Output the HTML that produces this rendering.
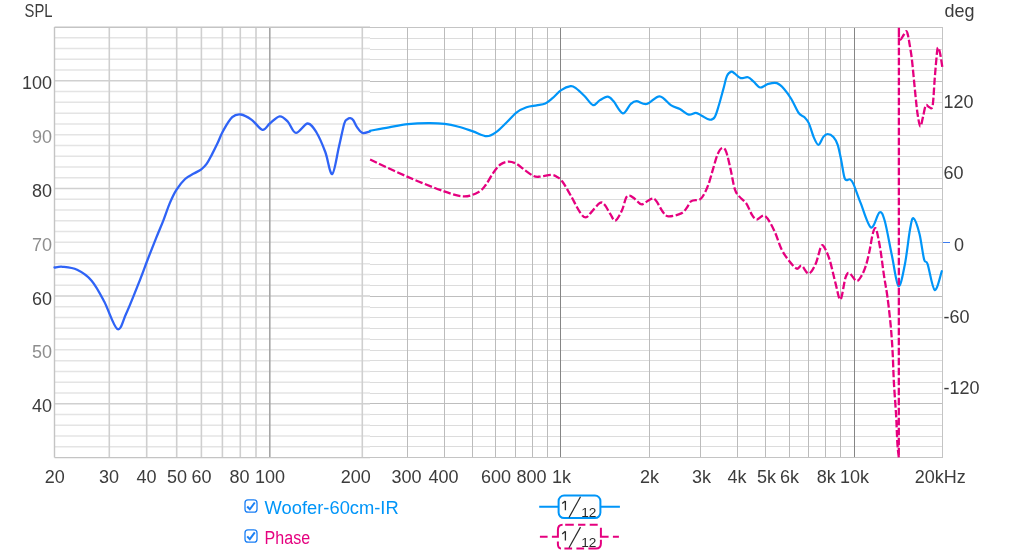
<!DOCTYPE html><html><head><meta charset="utf-8"><style>html,body{margin:0;padding:0;background:#fff;overflow:hidden}svg{display:block;will-change:transform}text{font-family:"Liberation Sans",sans-serif}</style></head><body>
<svg width="1024" height="553" viewBox="0 0 1024 553">
<rect width="1024" height="553" fill="#fff"/>
<line x1="54.5" y1="37.80" x2="370.0" y2="37.80" stroke="#e4e4e4" stroke-width="1.5"/>
<line x1="54.5" y1="48.56" x2="370.0" y2="48.56" stroke="#e4e4e4" stroke-width="1.5"/>
<line x1="54.5" y1="59.32" x2="370.0" y2="59.32" stroke="#e4e4e4" stroke-width="1.5"/>
<line x1="54.5" y1="70.08" x2="370.0" y2="70.08" stroke="#e4e4e4" stroke-width="1.5"/>
<line x1="54.5" y1="80.84" x2="370.0" y2="80.84" stroke="#d0d0d0" stroke-width="1.5"/>
<line x1="54.5" y1="91.61" x2="370.0" y2="91.61" stroke="#e4e4e4" stroke-width="1.5"/>
<line x1="54.5" y1="102.37" x2="370.0" y2="102.37" stroke="#e4e4e4" stroke-width="1.5"/>
<line x1="54.5" y1="113.13" x2="370.0" y2="113.13" stroke="#e4e4e4" stroke-width="1.5"/>
<line x1="54.5" y1="123.89" x2="370.0" y2="123.89" stroke="#e4e4e4" stroke-width="1.5"/>
<line x1="54.5" y1="134.65" x2="370.0" y2="134.65" stroke="#e4e4e4" stroke-width="1.5"/>
<line x1="54.5" y1="145.41" x2="370.0" y2="145.41" stroke="#e4e4e4" stroke-width="1.5"/>
<line x1="54.5" y1="156.17" x2="370.0" y2="156.17" stroke="#e4e4e4" stroke-width="1.5"/>
<line x1="54.5" y1="166.93" x2="370.0" y2="166.93" stroke="#e4e4e4" stroke-width="1.5"/>
<line x1="54.5" y1="177.69" x2="370.0" y2="177.69" stroke="#e4e4e4" stroke-width="1.5"/>
<line x1="54.5" y1="188.45" x2="370.0" y2="188.45" stroke="#d0d0d0" stroke-width="1.5"/>
<line x1="54.5" y1="199.22" x2="370.0" y2="199.22" stroke="#e4e4e4" stroke-width="1.5"/>
<line x1="54.5" y1="209.98" x2="370.0" y2="209.98" stroke="#e4e4e4" stroke-width="1.5"/>
<line x1="54.5" y1="220.74" x2="370.0" y2="220.74" stroke="#e4e4e4" stroke-width="1.5"/>
<line x1="54.5" y1="231.50" x2="370.0" y2="231.50" stroke="#e4e4e4" stroke-width="1.5"/>
<line x1="54.5" y1="242.26" x2="370.0" y2="242.26" stroke="#e4e4e4" stroke-width="1.5"/>
<line x1="54.5" y1="253.02" x2="370.0" y2="253.02" stroke="#e4e4e4" stroke-width="1.5"/>
<line x1="54.5" y1="263.78" x2="370.0" y2="263.78" stroke="#e4e4e4" stroke-width="1.5"/>
<line x1="54.5" y1="274.54" x2="370.0" y2="274.54" stroke="#e4e4e4" stroke-width="1.5"/>
<line x1="54.5" y1="285.30" x2="370.0" y2="285.30" stroke="#e4e4e4" stroke-width="1.5"/>
<line x1="54.5" y1="296.06" x2="370.0" y2="296.06" stroke="#d0d0d0" stroke-width="1.5"/>
<line x1="54.5" y1="306.83" x2="370.0" y2="306.83" stroke="#e4e4e4" stroke-width="1.5"/>
<line x1="54.5" y1="317.59" x2="370.0" y2="317.59" stroke="#e4e4e4" stroke-width="1.5"/>
<line x1="54.5" y1="328.35" x2="370.0" y2="328.35" stroke="#e4e4e4" stroke-width="1.5"/>
<line x1="54.5" y1="339.11" x2="370.0" y2="339.11" stroke="#e4e4e4" stroke-width="1.5"/>
<line x1="54.5" y1="349.87" x2="370.0" y2="349.87" stroke="#e4e4e4" stroke-width="1.5"/>
<line x1="54.5" y1="360.63" x2="370.0" y2="360.63" stroke="#e4e4e4" stroke-width="1.5"/>
<line x1="54.5" y1="371.39" x2="370.0" y2="371.39" stroke="#e4e4e4" stroke-width="1.5"/>
<line x1="54.5" y1="382.15" x2="370.0" y2="382.15" stroke="#e4e4e4" stroke-width="1.5"/>
<line x1="54.5" y1="392.91" x2="370.0" y2="392.91" stroke="#e4e4e4" stroke-width="1.5"/>
<line x1="54.5" y1="403.68" x2="370.0" y2="403.68" stroke="#d0d0d0" stroke-width="1.5"/>
<line x1="54.5" y1="414.44" x2="370.0" y2="414.44" stroke="#e4e4e4" stroke-width="1.5"/>
<line x1="54.5" y1="425.20" x2="370.0" y2="425.20" stroke="#e4e4e4" stroke-width="1.5"/>
<line x1="54.5" y1="435.96" x2="370.0" y2="435.96" stroke="#e4e4e4" stroke-width="1.5"/>
<line x1="54.5" y1="446.72" x2="370.0" y2="446.72" stroke="#e4e4e4" stroke-width="1.5"/>
<line x1="109.30" y1="27.0" x2="109.30" y2="457.0" stroke="#cfcfcf" stroke-width="1.6"/>
<line x1="146.70" y1="27.0" x2="146.70" y2="457.0" stroke="#cfcfcf" stroke-width="1.6"/>
<line x1="176.70" y1="27.0" x2="176.70" y2="457.0" stroke="#cfcfcf" stroke-width="1.6"/>
<line x1="201.40" y1="27.0" x2="201.40" y2="457.0" stroke="#cfcfcf" stroke-width="1.6"/>
<line x1="222.40" y1="27.0" x2="222.40" y2="457.0" stroke="#cfcfcf" stroke-width="1.6"/>
<line x1="240.30" y1="27.0" x2="240.30" y2="457.0" stroke="#cfcfcf" stroke-width="1.6"/>
<line x1="256.00" y1="27.0" x2="256.00" y2="457.0" stroke="#cfcfcf" stroke-width="1.6"/>
<line x1="269.80" y1="27.0" x2="269.80" y2="457.0" stroke="#a6a6a6" stroke-width="1.6"/>
<line x1="362.30" y1="27.0" x2="362.30" y2="457.0" stroke="#cfcfcf" stroke-width="1.6"/>
<line x1="54.5" y1="27" x2="54.5" y2="457.5" stroke="#c4c4c4" stroke-width="1.4"/>
<line x1="54.5" y1="27.2" x2="370" y2="27.2" stroke="#c4c4c4" stroke-width="1.4"/>
<line x1="54.5" y1="457.6" x2="370" y2="457.6" stroke="#c4c4c4" stroke-width="1.4"/>
<line x1="370.0" y1="38.50" x2="942.5" y2="38.50" stroke="#dcdcdc" stroke-width="1"/>
<line x1="370.0" y1="49.50" x2="942.5" y2="49.50" stroke="#dcdcdc" stroke-width="1"/>
<line x1="370.0" y1="59.50" x2="942.5" y2="59.50" stroke="#dcdcdc" stroke-width="1"/>
<line x1="370.0" y1="70.50" x2="942.5" y2="70.50" stroke="#dcdcdc" stroke-width="1"/>
<line x1="370.0" y1="81.50" x2="942.5" y2="81.50" stroke="#bebebe" stroke-width="1"/>
<line x1="370.0" y1="92.50" x2="942.5" y2="92.50" stroke="#dcdcdc" stroke-width="1"/>
<line x1="370.0" y1="102.50" x2="942.5" y2="102.50" stroke="#dcdcdc" stroke-width="1"/>
<line x1="370.0" y1="113.50" x2="942.5" y2="113.50" stroke="#dcdcdc" stroke-width="1"/>
<line x1="370.0" y1="124.50" x2="942.5" y2="124.50" stroke="#dcdcdc" stroke-width="1"/>
<line x1="370.0" y1="135.50" x2="942.5" y2="135.50" stroke="#dcdcdc" stroke-width="1"/>
<line x1="370.0" y1="145.50" x2="942.5" y2="145.50" stroke="#dcdcdc" stroke-width="1"/>
<line x1="370.0" y1="156.50" x2="942.5" y2="156.50" stroke="#dcdcdc" stroke-width="1"/>
<line x1="370.0" y1="167.50" x2="942.5" y2="167.50" stroke="#dcdcdc" stroke-width="1"/>
<line x1="370.0" y1="178.50" x2="942.5" y2="178.50" stroke="#dcdcdc" stroke-width="1"/>
<line x1="370.0" y1="188.50" x2="942.5" y2="188.50" stroke="#bebebe" stroke-width="1"/>
<line x1="370.0" y1="199.50" x2="942.5" y2="199.50" stroke="#dcdcdc" stroke-width="1"/>
<line x1="370.0" y1="210.50" x2="942.5" y2="210.50" stroke="#dcdcdc" stroke-width="1"/>
<line x1="370.0" y1="221.50" x2="942.5" y2="221.50" stroke="#dcdcdc" stroke-width="1"/>
<line x1="370.0" y1="231.50" x2="942.5" y2="231.50" stroke="#dcdcdc" stroke-width="1"/>
<line x1="370.0" y1="242.50" x2="942.5" y2="242.50" stroke="#dcdcdc" stroke-width="1"/>
<line x1="370.0" y1="253.50" x2="942.5" y2="253.50" stroke="#dcdcdc" stroke-width="1"/>
<line x1="370.0" y1="264.50" x2="942.5" y2="264.50" stroke="#dcdcdc" stroke-width="1"/>
<line x1="370.0" y1="274.50" x2="942.5" y2="274.50" stroke="#dcdcdc" stroke-width="1"/>
<line x1="370.0" y1="285.50" x2="942.5" y2="285.50" stroke="#dcdcdc" stroke-width="1"/>
<line x1="370.0" y1="296.50" x2="942.5" y2="296.50" stroke="#bebebe" stroke-width="1"/>
<line x1="370.0" y1="307.50" x2="942.5" y2="307.50" stroke="#dcdcdc" stroke-width="1"/>
<line x1="370.0" y1="317.50" x2="942.5" y2="317.50" stroke="#dcdcdc" stroke-width="1"/>
<line x1="370.0" y1="328.50" x2="942.5" y2="328.50" stroke="#dcdcdc" stroke-width="1"/>
<line x1="370.0" y1="339.50" x2="942.5" y2="339.50" stroke="#dcdcdc" stroke-width="1"/>
<line x1="370.0" y1="350.50" x2="942.5" y2="350.50" stroke="#dcdcdc" stroke-width="1"/>
<line x1="370.0" y1="360.50" x2="942.5" y2="360.50" stroke="#dcdcdc" stroke-width="1"/>
<line x1="370.0" y1="371.50" x2="942.5" y2="371.50" stroke="#dcdcdc" stroke-width="1"/>
<line x1="370.0" y1="382.50" x2="942.5" y2="382.50" stroke="#dcdcdc" stroke-width="1"/>
<line x1="370.0" y1="393.50" x2="942.5" y2="393.50" stroke="#dcdcdc" stroke-width="1"/>
<line x1="370.0" y1="403.50" x2="942.5" y2="403.50" stroke="#bebebe" stroke-width="1"/>
<line x1="370.0" y1="414.50" x2="942.5" y2="414.50" stroke="#dcdcdc" stroke-width="1"/>
<line x1="370.0" y1="425.50" x2="942.5" y2="425.50" stroke="#dcdcdc" stroke-width="1"/>
<line x1="370.0" y1="436.50" x2="942.5" y2="436.50" stroke="#dcdcdc" stroke-width="1"/>
<line x1="370.0" y1="446.50" x2="942.5" y2="446.50" stroke="#dcdcdc" stroke-width="1"/>
<line x1="407.50" y1="27.5" x2="407.50" y2="457.5" stroke="#bcbcbc" stroke-width="1"/>
<line x1="444.50" y1="27.5" x2="444.50" y2="457.5" stroke="#bcbcbc" stroke-width="1"/>
<line x1="472.50" y1="27.5" x2="472.50" y2="457.5" stroke="#bcbcbc" stroke-width="1"/>
<line x1="495.50" y1="27.5" x2="495.50" y2="457.5" stroke="#bcbcbc" stroke-width="1"/>
<line x1="515.50" y1="27.5" x2="515.50" y2="457.5" stroke="#bcbcbc" stroke-width="1"/>
<line x1="532.50" y1="27.5" x2="532.50" y2="457.5" stroke="#bcbcbc" stroke-width="1"/>
<line x1="547.50" y1="27.5" x2="547.50" y2="457.5" stroke="#bcbcbc" stroke-width="1"/>
<line x1="560.50" y1="27.5" x2="560.50" y2="457.5" stroke="#858585" stroke-width="1"/>
<line x1="649.50" y1="27.5" x2="649.50" y2="457.5" stroke="#bcbcbc" stroke-width="1"/>
<line x1="700.50" y1="27.5" x2="700.50" y2="457.5" stroke="#bcbcbc" stroke-width="1"/>
<line x1="737.50" y1="27.5" x2="737.50" y2="457.5" stroke="#bcbcbc" stroke-width="1"/>
<line x1="765.50" y1="27.5" x2="765.50" y2="457.5" stroke="#bcbcbc" stroke-width="1"/>
<line x1="789.50" y1="27.5" x2="789.50" y2="457.5" stroke="#bcbcbc" stroke-width="1"/>
<line x1="808.50" y1="27.5" x2="808.50" y2="457.5" stroke="#bcbcbc" stroke-width="1"/>
<line x1="825.50" y1="27.5" x2="825.50" y2="457.5" stroke="#bcbcbc" stroke-width="1"/>
<line x1="840.50" y1="27.5" x2="840.50" y2="457.5" stroke="#bcbcbc" stroke-width="1"/>
<line x1="854.50" y1="27.5" x2="854.50" y2="457.5" stroke="#858585" stroke-width="1"/>
<line x1="370" y1="27.5" x2="942.5" y2="27.5" stroke="#c4c4c4" stroke-width="1"/>
<line x1="370" y1="457.5" x2="942.5" y2="457.5" stroke="#c4c4c4" stroke-width="1"/>
<line x1="942.5" y1="27" x2="942.5" y2="458" stroke="#c4c4c4" stroke-width="1"/>
<path d="M54.50,267.50 C55.87,267.38 58.93,266.42 62.70,266.80 C66.47,267.18 72.28,267.48 77.10,269.80 C81.92,272.12 87.08,275.42 91.60,280.70 C96.12,285.98 99.92,293.45 104.20,301.50 C108.48,309.55 113.67,326.92 117.30,329.00 C120.93,331.08 122.45,321.60 126.00,314.00 C129.55,306.40 135.02,292.40 138.60,283.40 C142.18,274.40 144.57,267.58 147.50,260.00 C150.43,252.42 153.55,244.52 156.20,237.90 C158.85,231.28 161.12,226.13 163.40,220.30 C165.68,214.47 167.73,207.97 169.90,202.90 C172.07,197.83 173.87,193.88 176.40,189.90 C178.93,185.92 182.20,181.72 185.10,179.00 C188.00,176.28 191.10,175.22 193.80,173.60 C196.50,171.98 199.17,170.92 201.30,169.30 C203.43,167.68 204.80,166.43 206.60,163.90 C208.40,161.37 210.28,157.53 212.10,154.10 C213.92,150.67 215.65,147.20 217.50,143.30 C219.35,139.40 220.75,135.05 223.20,130.70 C225.65,126.35 229.27,119.90 232.20,117.20 C235.13,114.50 237.55,114.05 240.80,114.50 C244.05,114.95 248.08,117.35 251.70,119.90 C255.32,122.45 259.48,129.20 262.50,129.80 C265.52,130.40 266.93,125.75 269.80,123.50 C272.67,121.25 276.68,116.60 279.70,116.30 C282.72,116.00 285.18,118.93 287.90,121.70 C290.62,124.47 292.70,132.60 296.00,132.90 C299.30,133.20 304.28,123.57 307.70,123.50 C311.12,123.43 313.57,127.75 316.50,132.50 C319.43,137.25 322.68,145.07 325.30,152.00 C327.92,158.93 329.93,174.93 332.20,174.10 C334.47,173.27 336.88,155.43 338.90,147.00 C340.92,138.57 342.90,128.12 344.30,123.50 C345.70,118.88 346.30,120.18 347.30,119.30 C348.30,118.42 349.30,118.05 350.30,118.20 C351.30,118.35 352.18,118.72 353.30,120.20 C354.42,121.68 355.48,124.98 357.00,127.10 C358.52,129.22 360.23,132.18 362.40,132.90 C364.57,133.62 368.73,131.65 370.00,131.40" fill="none" stroke="#2f63f6" stroke-width="2.3" stroke-linejoin="round" stroke-linecap="round"/>
<path d="M370.00,130.80 C373.17,130.22 382.67,128.40 389.00,127.30 C395.33,126.20 401.47,124.88 408.00,124.20 C414.53,123.52 422.08,123.25 428.20,123.20 C434.32,123.15 439.63,123.32 444.70,123.90 C449.77,124.48 453.88,125.45 458.60,126.70 C463.32,127.95 468.32,129.82 473.00,131.40 C477.68,132.98 482.85,136.07 486.70,136.20 C490.55,136.33 492.83,134.43 496.10,132.20 C499.37,129.97 502.92,126.07 506.30,122.80 C509.68,119.53 513.03,115.18 516.40,112.60 C519.77,110.02 523.13,108.50 526.50,107.30 C529.87,106.10 533.47,106.03 536.60,105.40 C539.73,104.77 542.65,104.70 545.30,103.50 C547.95,102.30 549.85,100.42 552.50,98.20 C555.15,95.98 558.18,92.20 561.20,90.20 C564.22,88.20 568.17,86.55 570.60,86.20 C573.03,85.85 573.48,86.47 575.80,88.10 C578.12,89.73 581.62,93.17 584.50,96.00 C587.38,98.83 590.58,104.37 593.10,105.10 C595.62,105.83 597.18,101.80 599.60,100.40 C602.02,99.00 605.30,96.58 607.60,96.70 C609.90,96.82 610.87,98.32 613.40,101.10 C615.93,103.88 619.92,112.92 622.80,113.40 C625.68,113.88 628.42,106.05 630.70,104.00 C632.98,101.95 633.85,101.10 636.50,101.10 C639.15,101.10 642.75,104.80 646.60,104.00 C650.45,103.20 655.50,96.07 659.60,96.30 C663.70,96.53 667.82,103.28 671.20,105.40 C674.58,107.52 676.98,107.47 679.90,109.00 C682.82,110.53 686.03,113.97 688.70,114.60 C691.37,115.23 693.73,112.62 695.90,112.80 C698.07,112.98 699.42,114.55 701.70,115.70 C703.98,116.85 707.43,119.47 709.60,119.70 C711.77,119.93 713.13,119.58 714.70,117.10 C716.27,114.62 717.55,109.50 719.00,104.80 C720.45,100.10 722.07,93.72 723.40,88.90 C724.73,84.08 725.68,78.78 727.00,75.90 C728.32,73.02 729.98,71.97 731.30,71.60 C732.62,71.23 733.33,72.62 734.90,73.70 C736.47,74.78 738.52,77.50 740.70,78.10 C742.88,78.70 745.83,76.70 748.00,77.30 C750.17,77.90 751.67,80.00 753.70,81.70 C755.73,83.40 757.78,87.13 760.20,87.50 C762.62,87.87 765.42,84.63 768.20,83.90 C770.98,83.17 774.25,82.27 776.90,83.10 C779.55,83.93 781.70,86.25 784.10,88.90 C786.50,91.55 788.87,94.98 791.30,99.00 C793.73,103.02 796.50,109.95 798.70,113.00 C800.90,116.05 802.82,115.62 804.50,117.30 C806.18,118.98 807.23,119.72 808.80,123.10 C810.37,126.48 812.28,133.98 813.90,137.60 C815.52,141.22 816.93,144.92 818.50,144.80 C820.07,144.68 821.78,138.70 823.30,136.90 C824.82,135.10 825.92,134.00 827.60,134.00 C829.28,134.00 831.72,135.10 833.40,136.90 C835.08,138.70 836.38,140.83 837.70,144.80 C839.02,148.77 840.10,155.03 841.30,160.70 C842.50,166.37 843.45,175.68 844.90,178.80 C846.35,181.92 848.57,178.52 850.00,179.40 C851.43,180.28 851.73,180.18 853.50,184.10 C855.27,188.02 857.68,195.67 860.60,202.90 C863.52,210.13 867.87,225.92 871.00,227.50 C874.13,229.08 877.12,213.52 879.40,212.40 C881.68,211.28 882.62,213.62 884.70,220.80 C886.78,227.98 889.60,244.63 891.90,255.50 C894.20,266.37 896.33,284.55 898.50,286.00 C900.67,287.45 902.98,273.62 904.90,264.20 C906.82,254.78 908.57,237.17 910.00,229.50 C911.43,221.83 911.93,217.53 913.50,218.20 C915.07,218.87 917.63,226.63 919.40,233.50 C921.17,240.37 922.73,254.30 924.10,259.40 C925.47,264.50 925.83,259.00 927.60,264.10 C929.37,269.20 932.33,288.82 934.70,290.00 C937.07,291.18 940.62,274.33 941.80,271.20" fill="none" stroke="#0095f8" stroke-width="2.2" stroke-linejoin="round" stroke-linecap="round"/>
<path d="M370.10,159.50 C376.37,162.40 395.40,171.60 407.70,176.90 C420.00,182.20 434.50,188.05 443.90,191.30 C453.30,194.55 458.30,196.30 464.10,196.40 C469.90,196.50 475.07,193.85 478.70,191.90 C482.33,189.95 483.50,187.83 485.90,184.70 C488.30,181.57 490.68,176.47 493.10,173.10 C495.52,169.73 497.87,166.42 500.40,164.50 C502.93,162.58 505.65,161.73 508.30,161.60 C510.95,161.47 513.53,162.27 516.30,163.70 C519.07,165.13 522.02,168.15 524.90,170.20 C527.78,172.25 531.18,174.92 533.60,176.00 C536.02,177.08 536.50,176.88 539.40,176.70 C542.30,176.52 548.12,174.90 551.00,174.90 C553.88,174.90 554.78,175.55 556.70,176.70 C558.62,177.85 560.08,178.53 562.50,181.80 C564.92,185.07 568.30,191.23 571.20,196.30 C574.10,201.37 577.47,208.68 579.90,212.20 C582.33,215.72 583.85,217.45 585.80,217.40 C587.75,217.35 589.27,214.30 591.60,211.90 C593.93,209.50 597.63,204.20 599.80,203.00 C601.97,201.80 602.83,202.85 604.60,204.70 C606.37,206.55 608.60,211.45 610.40,214.10 C612.20,216.75 613.48,221.20 615.40,220.60 C617.32,220.00 620.13,214.27 621.90,210.50 C623.67,206.73 624.73,200.48 626.00,198.00 C627.27,195.52 628.15,195.55 629.50,195.60 C630.85,195.65 632.83,197.38 634.10,198.30 C635.37,199.22 635.75,200.08 637.10,201.10 C638.45,202.12 639.85,204.78 642.20,204.40 C644.55,204.02 648.92,199.47 651.20,198.80 C653.48,198.13 654.03,198.33 655.90,200.40 C657.77,202.47 660.35,208.55 662.40,211.20 C664.45,213.85 665.07,215.93 668.20,216.30 C671.33,216.67 678.07,214.85 681.20,213.40 C684.33,211.95 685.32,209.65 687.00,207.60 C688.68,205.55 689.12,202.48 691.30,201.10 C693.48,199.72 697.90,200.57 700.10,199.30 C702.30,198.03 703.05,196.15 704.50,193.50 C705.95,190.85 707.37,187.50 708.80,183.40 C710.23,179.30 711.65,173.72 713.10,168.90 C714.55,164.08 716.00,157.98 717.50,154.50 C719.00,151.02 720.67,148.48 722.10,148.00 C723.53,147.52 724.70,148.12 726.10,151.60 C727.50,155.08 729.05,162.63 730.50,168.90 C731.95,175.17 733.35,184.62 734.80,189.20 C736.25,193.78 737.27,194.00 739.20,196.40 C741.13,198.80 744.23,200.47 746.40,203.60 C748.57,206.73 750.43,212.55 752.20,215.20 C753.97,217.85 754.88,219.38 757.00,219.50 C759.12,219.62 762.08,214.17 764.90,215.90 C767.72,217.63 771.08,224.25 773.90,229.90 C776.72,235.55 779.15,244.50 781.80,249.80 C784.45,255.10 787.30,258.55 789.80,261.70 C792.30,264.85 794.82,268.03 796.80,268.70 C798.78,269.37 799.72,264.88 801.70,265.70 C803.68,266.52 806.37,273.93 808.70,273.60 C811.03,273.27 813.72,268.00 815.70,263.70 C817.68,259.40 819.28,250.72 820.60,247.80 C821.92,244.88 822.10,244.22 823.60,246.20 C825.10,248.18 827.60,253.47 829.60,259.70 C831.60,265.93 833.78,276.97 835.60,283.60 C837.42,290.23 838.85,300.50 840.50,299.50 C842.15,298.50 844.00,281.98 845.50,277.60 C847.00,273.22 847.67,272.63 849.50,273.20 C851.33,273.77 854.48,280.58 856.50,281.00 C858.52,281.42 860.03,278.27 861.60,275.70 C863.17,273.13 864.58,269.70 865.90,265.60 C867.22,261.50 868.42,256.17 869.50,251.10 C870.58,246.03 871.55,238.93 872.40,235.20 C873.25,231.47 873.88,229.42 874.60,228.70 C875.32,227.98 875.73,227.40 876.70,230.90 C877.67,234.40 879.18,242.23 880.40,249.70 C881.62,257.17 882.85,268.00 884.00,275.70 C885.15,283.40 886.27,288.43 887.30,295.90 C888.33,303.37 889.47,313.52 890.20,320.50 C890.93,327.48 891.27,331.90 891.70,337.80 C892.13,343.70 892.43,348.43 892.80,355.90 C893.17,363.37 893.35,372.72 893.90,382.60 C894.45,392.48 895.52,405.05 896.10,415.20 C896.68,425.35 896.95,436.45 897.40,443.50 C897.85,450.55 898.57,455.17 898.80,457.50 L898.9,27.5 L898.90,38.30 C899.22,38.48 900.02,39.95 900.80,39.40 C901.58,38.85 902.68,36.37 903.60,35.00 C904.52,33.63 905.58,31.20 906.30,31.20 C907.02,31.20 907.37,32.92 907.90,35.00 C908.43,37.08 908.87,39.90 909.50,43.70 C910.13,47.50 911.02,52.37 911.70,57.80 C912.38,63.23 912.95,69.83 913.60,76.30 C914.25,82.77 914.93,90.28 915.60,96.60 C916.27,102.92 916.82,109.23 917.60,114.20 C918.38,119.17 919.40,125.95 920.30,126.40 C921.20,126.85 922.10,120.40 923.00,116.90 C923.90,113.40 924.78,107.10 925.70,105.40 C926.62,103.70 927.48,106.25 928.50,106.70 C929.52,107.15 931.02,109.10 931.80,108.10 C932.58,107.10 932.73,105.33 933.20,100.70 C933.67,96.07 934.08,87.08 934.60,80.30 C935.12,73.52 935.78,65.38 936.30,60.00 C936.82,54.62 937.10,49.27 937.70,48.00 C938.30,46.73 939.13,49.23 939.90,52.40 C940.67,55.57 941.90,64.57 942.30,67.00" fill="none" stroke="#e5007f" stroke-width="2.3" stroke-dasharray="7.5 2.5" stroke-linejoin="round"/>
<line x1="943" y1="242.5" x2="950" y2="242.5" stroke="#3b7bef" stroke-width="1"/>
<text x="24.5" y="17.3" font-size="18.5" fill="#3c3c3c" text-anchor="start" textLength="28.0" lengthAdjust="spacingAndGlyphs">SPL</text>
<text x="944.5" y="17.0" font-size="18.5" fill="#3c3c3c" text-anchor="start" textLength="30.0" lengthAdjust="spacingAndGlyphs">deg</text>
<text x="52.0" y="88.8" font-size="18.0" fill="#3c3c3c" text-anchor="end">100</text>
<text x="52.0" y="143.4" font-size="18.0" fill="#8e8e8e" text-anchor="end">90</text>
<text x="52.0" y="197.2" font-size="18.0" fill="#3c3c3c" text-anchor="end">80</text>
<text x="52.0" y="250.9" font-size="18.0" fill="#8e8e8e" text-anchor="end">70</text>
<text x="52.0" y="304.6" font-size="18.0" fill="#3c3c3c" text-anchor="end">60</text>
<text x="52.0" y="358.4" font-size="18.0" fill="#8e8e8e" text-anchor="end">50</text>
<text x="52.0" y="412.1" font-size="18.0" fill="#3c3c3c" text-anchor="end">40</text>
<text x="943.5" y="107.6" font-size="18.0" fill="#3c3c3c" text-anchor="start">120</text>
<text x="943.5" y="179.2" font-size="18.0" fill="#3c3c3c" text-anchor="start">60</text>
<text x="954.0" y="250.9" font-size="18.0" fill="#3c3c3c" text-anchor="start">0</text>
<text x="943.5" y="322.6" font-size="18.0" fill="#3c3c3c" text-anchor="start">-60</text>
<text x="943.5" y="394.2" font-size="18.0" fill="#3c3c3c" text-anchor="start">-120</text>
<text x="54.7" y="483.0" font-size="18.0" fill="#3c3c3c" text-anchor="middle">20</text>
<text x="108.9" y="483.0" font-size="18.0" fill="#3c3c3c" text-anchor="middle">30</text>
<text x="146.6" y="483.0" font-size="18.0" fill="#3c3c3c" text-anchor="middle">40</text>
<text x="177.0" y="483.0" font-size="18.0" fill="#3c3c3c" text-anchor="middle">50</text>
<text x="201.5" y="483.0" font-size="18.0" fill="#3c3c3c" text-anchor="middle">60</text>
<text x="239.4" y="483.0" font-size="18.0" fill="#3c3c3c" text-anchor="middle">80</text>
<text x="269.9" y="483.0" font-size="18.0" fill="#3c3c3c" text-anchor="middle">100</text>
<text x="355.8" y="483.0" font-size="18.0" fill="#3c3c3c" text-anchor="middle">200</text>
<text x="406.5" y="483.0" font-size="18.0" fill="#3c3c3c" text-anchor="middle">300</text>
<text x="443.4" y="483.0" font-size="18.0" fill="#3c3c3c" text-anchor="middle">400</text>
<text x="495.9" y="483.0" font-size="18.0" fill="#3c3c3c" text-anchor="middle">600</text>
<text x="531.5" y="483.0" font-size="18.0" fill="#3c3c3c" text-anchor="middle">800</text>
<text x="561.6" y="483.0" font-size="18.0" fill="#3c3c3c" text-anchor="middle">1k</text>
<text x="649.5" y="483.0" font-size="18.0" fill="#3c3c3c" text-anchor="middle">2k</text>
<text x="701.6" y="483.0" font-size="18.0" fill="#3c3c3c" text-anchor="middle">3k</text>
<text x="737.0" y="483.0" font-size="18.0" fill="#3c3c3c" text-anchor="middle">4k</text>
<text x="766.5" y="483.0" font-size="18.0" fill="#3c3c3c" text-anchor="middle">5k</text>
<text x="789.4" y="483.0" font-size="18.0" fill="#3c3c3c" text-anchor="middle">6k</text>
<text x="826.3" y="483.0" font-size="18.0" fill="#3c3c3c" text-anchor="middle">8k</text>
<text x="854.5" y="483.0" font-size="18.0" fill="#3c3c3c" text-anchor="middle">10k</text>
<text x="940.2" y="483.0" font-size="18.0" fill="#3c3c3c" text-anchor="middle">20kHz</text>
<rect x="245" y="499.9" width="12" height="12.3" rx="3" fill="none" stroke="#1a7ff5" stroke-width="1.3"/>
<path d="M247.2,506.5 L249.8,509.3 L254.8,502.5" fill="none" stroke="#1a7ff5" stroke-width="2"/>
<text x="264.6" y="513.6" font-size="18.0" fill="#0095f8" text-anchor="start" textLength="134.1" lengthAdjust="spacingAndGlyphs">Woofer-60cm-IR</text>
<rect x="245" y="529.9" width="12" height="12.3" rx="3" fill="none" stroke="#1a7ff5" stroke-width="1.3"/>
<path d="M247.2,536.4 L249.8,539.2 L254.8,532.4" fill="none" stroke="#1a7ff5" stroke-width="2"/>
<text x="264.6" y="543.5" font-size="18.0" fill="#e5007f" text-anchor="start" textLength="45.5" lengthAdjust="spacingAndGlyphs">Phase</text>
<line x1="539.2" y1="506.8" x2="619.9" y2="506.8" stroke="#0095f8" stroke-width="2"/>
<rect x="558.6" y="495.5" width="41.8" height="22.6" rx="5.5" fill="#fff" stroke="#0095f8" stroke-width="2"/>
<path d="M539.9,536.75 H547.6 M551.9,536.75 H557.9 V530 Q557.9,524.7 562.6,524.7 M565.2,524.7 H573.8 M578.1,524.7 H585.4 M589.7,524.7 H597.7 M600.9,527.7 V536.75 H608.6 M612.9,536.75 H618.9 M588.4,548.4 H596 Q600.9,548.4 600.9,543.4 V539.8 M564.4,548.4 H572.1 M576.4,548.4 H584.1 M557.9,541.5 V544 Q557.9,548.4 561,548.4" fill="none" stroke="#e5007f" stroke-width="2"/>
<path d="M565.4,501.0 V510.3 M562.2,503.6 L565.4,501.0" fill="none" stroke="#2a2a2a" stroke-width="1.3"/>
<line x1="569" y1="517.5" x2="580.5" y2="496.8" stroke="#2a2a2a" stroke-width="1.2"/>
<text x="581.2" y="516.9" font-size="13.6" fill="#2a2a2a" text-anchor="start" textLength="15.2" lengthAdjust="spacingAndGlyphs">12</text>
<path d="M565.4,531.3 V540.6 M562.2,533.9 L565.4,531.3" fill="none" stroke="#2a2a2a" stroke-width="1.3"/>
<line x1="569" y1="547.8" x2="580.5" y2="527.1" stroke="#2a2a2a" stroke-width="1.2"/>
<text x="581.2" y="547.2" font-size="13.6" fill="#2a2a2a" text-anchor="start" textLength="15.2" lengthAdjust="spacingAndGlyphs">12</text>
</svg></body></html>
